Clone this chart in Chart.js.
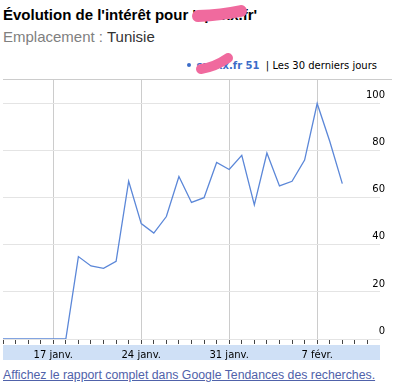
<!DOCTYPE html>
<html>
<head>
<meta charset="UTF-8">
<title>Évolution de l'intérêt</title>
<script src="https://cdn.jsdelivr.net/npm/chart.js"></script>
<style>
body{margin:0;width:400px;height:388px;overflow:hidden;background:#fff;position:relative;font-family:"Liberation Sans",Arial,sans-serif;}
.abs{position:absolute;white-space:nowrap;}
#title{left:3px;top:7px;font-size:15px;line-height:15px;font-weight:bold;color:#000;}
#place{left:3px;top:29px;font-size:15px;line-height:15px;color:#808080;}
#place span{color:#333;}
#legend{right:23px;top:61px;font-family:"DejaVu Sans";font-size:10px;line-height:10px;color:#000;}
#legend b{color:#3b6cc8;}
#legend i{display:inline-block;width:4px;height:4px;border-radius:2px;background:#3b6cc8;vertical-align:2px;margin-right:6px;}
#rule{left:3px;top:79px;width:389px;height:1px;background:#ccc;}
#box{left:0;top:80px;width:400px;height:280px;}
#link{left:3px;top:369px;font-size:12.3px;line-height:12.3px;color:#5062aa;text-decoration:underline;}
#ink{left:0;top:0;}
</style>
</head>
<body>
<div id="title" class="abs">Évolution de l'intérêt pour 'spxxx.fr'</div>
<div id="place" class="abs">Emplacement : <span>Tunisie</span></div>
<div id="legend" class="abs"><i></i><b>spxxx.fr 51</b>&nbsp; | Les 30 derniers jours</div>
<div id="rule" class="abs"></div>
<div id="box" class="abs"><canvas id="myChart" width="400" height="280"></canvas></div>
<div id="link" class="abs">Affichez le rapport complet dans Google Tendances des recherches.</div>
<svg id="ink" class="abs" width="400" height="90">
	<path d="M198 16 Q222 15 241 11" stroke="#f06a9e" stroke-width="12" fill="none" stroke-linecap="round"/>
	<path d="M201 69 Q215 67 228 58" stroke="#f06a9e" stroke-width="10" fill="none" stroke-linecap="round"/>
</svg>
<script>
// données (13 janv. -> 9 févr.)
var categories = ['13 janv.','14 janv.','15 janv.','16 janv.','17 janv.','18 janv.','19 janv.',
	'20 janv.','21 janv.','22 janv.','23 janv.','24 janv.','25 janv.','26 janv.','27 janv.',
	'28 janv.','29 janv.','30 janv.','31 janv.','1 févr.','2 févr.','3 févr.','4 févr.',
	'5 févr.','6 févr.','7 févr.','8 févr.','9 févr.'];
var interest = [0,0,0,0,0,0,35,31,30,33,67,49,45,52,69,58,60,75,72,78,57,79,65,67,76,100,84,66];
var xTickLabels = ['17 janv.','24 janv.','31 janv.','7 févr.'];
var yTicks = [0,20,40,60,80,100];
var daysShown = 30;

var points = [];
for (var i = 0; i < interest.length; i++) points.push({x: i, y: interest[i]});

function weekly(v){ return xTickLabels.indexOf(categories[v]) >= 0; }

var band = {
	id: 'band',
	beforeDraw: function(c){
		var a = c.chartArea, g = c.ctx;
		g.save();
		g.fillStyle = '#cfe0f6';
		g.fillRect(a.left, a.bottom + 6, a.right - a.left, 15);
		g.restore();
	}
};

var ctx = document.getElementById('myChart');
new Chart(ctx, {
	type: 'line',
	data: {
		datasets: [{
			data: points,
			borderColor: '#5b87d8',
			borderWidth: 1.3,
			pointRadius: 0,
			tension: 0,
			fill: false
		}]
	},
	options: {
		responsive: false,
		animation: false,
		layout: {padding: {left: 3, right: 10, top: 0, bottom: 0}},
		plugins: {legend: {display: false}, tooltip: {enabled: false}},
		scales: {
			x: {
				type: 'linear', min: 0, max: daysShown,
				afterBuildTicks: function(s){ s.ticks = s.ticks.filter(function(t){ return t.value < daysShown; }); },
				afterFit: function(s){ s.height = 21; s.paddingLeft = 0; s.paddingRight = 0; },
				border: {display: false},
				grid: {
					color: function(c){ return c.tick && weekly(c.tick.value) ? '#cccccc' : 'rgba(0,0,0,0)'; },
					tickColor: '#444',
					tickLength: 5
				},
				ticks: {
					stepSize: 1, autoSkip: false, maxRotation: 0, padding: 5,
					color: '#000', font: {family: 'DejaVu Sans', size: 10},
					callback: function(v){ return weekly(v) ? categories[v] : ''; }
				}
			},
			y: {
				position: 'right', min: 0, max: 110,
				afterBuildTicks: function(s){ s.ticks = yTicks.map(function(v){ return {value: v}; }); },
				afterFit: function(s){ s.paddingTop = 0; s.paddingBottom = 0; },
				border: {display: false},
				grid: {color: '#e4e4e4', drawTicks: false},
				ticks: {
					mirror: true, padding: 5, labelOffset: -8,
					color: '#000', font: {family: 'DejaVu Sans', size: 10}
				}
			}
		}
	},
	plugins: [band]
});
</script>
</body>
</html>
